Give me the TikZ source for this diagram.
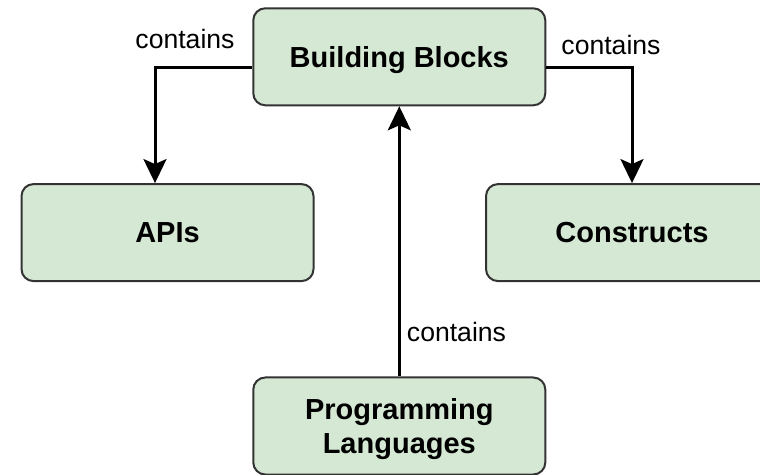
\documentclass[tikz,border=0pt]{standalone}
\usepackage{fontspec}
\setmainfont{Liberation Sans}
\usetikzlibrary{arrows.meta}
\definecolor{boxfill}{HTML}{D5E8D4}
\definecolor{boxline}{HTML}{333333}

\begin{document}
\begin{tikzpicture}[x=0.5pt,y=-0.5pt,
  box/.style={rectangle,rounded corners=6pt,draw=boxline,line width=1pt,fill=boxfill,
    minimum width=146pt,minimum height=48.5pt,inner sep=0pt,text depth=0pt,
    align=center,font=\fontsize{14.5}{17.2}\selectfont\bfseries},
  lbl/.style={anchor=base,inner sep=0pt,font=\fontsize{13.3}{16}\selectfont},
  arr/.style={line width=1.5pt,-{Stealth[length=12pt,width=11.5pt,inset=2.5pt]}}]
\useasboundingbox (0,0) rectangle (760,475);
\clip (0,0) rectangle (760,475);
\path node (v0) at (399.3,56.8) [box] {Building Blocks}
node (v1) at (167.5,232.6) [box] {APIs}
node (v2) at (632,232.6) [box] {Constructs}
node (v3) at (399.3,426) [box] {Programming\\Languages};
\draw[arr] ([yshift=-5.25pt]v0.west) -| ([xshift=-6.25pt]v1.north);
\draw[arr] ([yshift=-5.25pt]v0.east) -| (v2.north);
\draw[arr] (v3) -- (v0);
\path node (c0) at (185,48.3) [lbl] {contains}
node (c1) at (611,55) [lbl] {contains}
node (c2) at (456.5,341.7) [lbl] {contains};
\end{tikzpicture}
\end{document}
